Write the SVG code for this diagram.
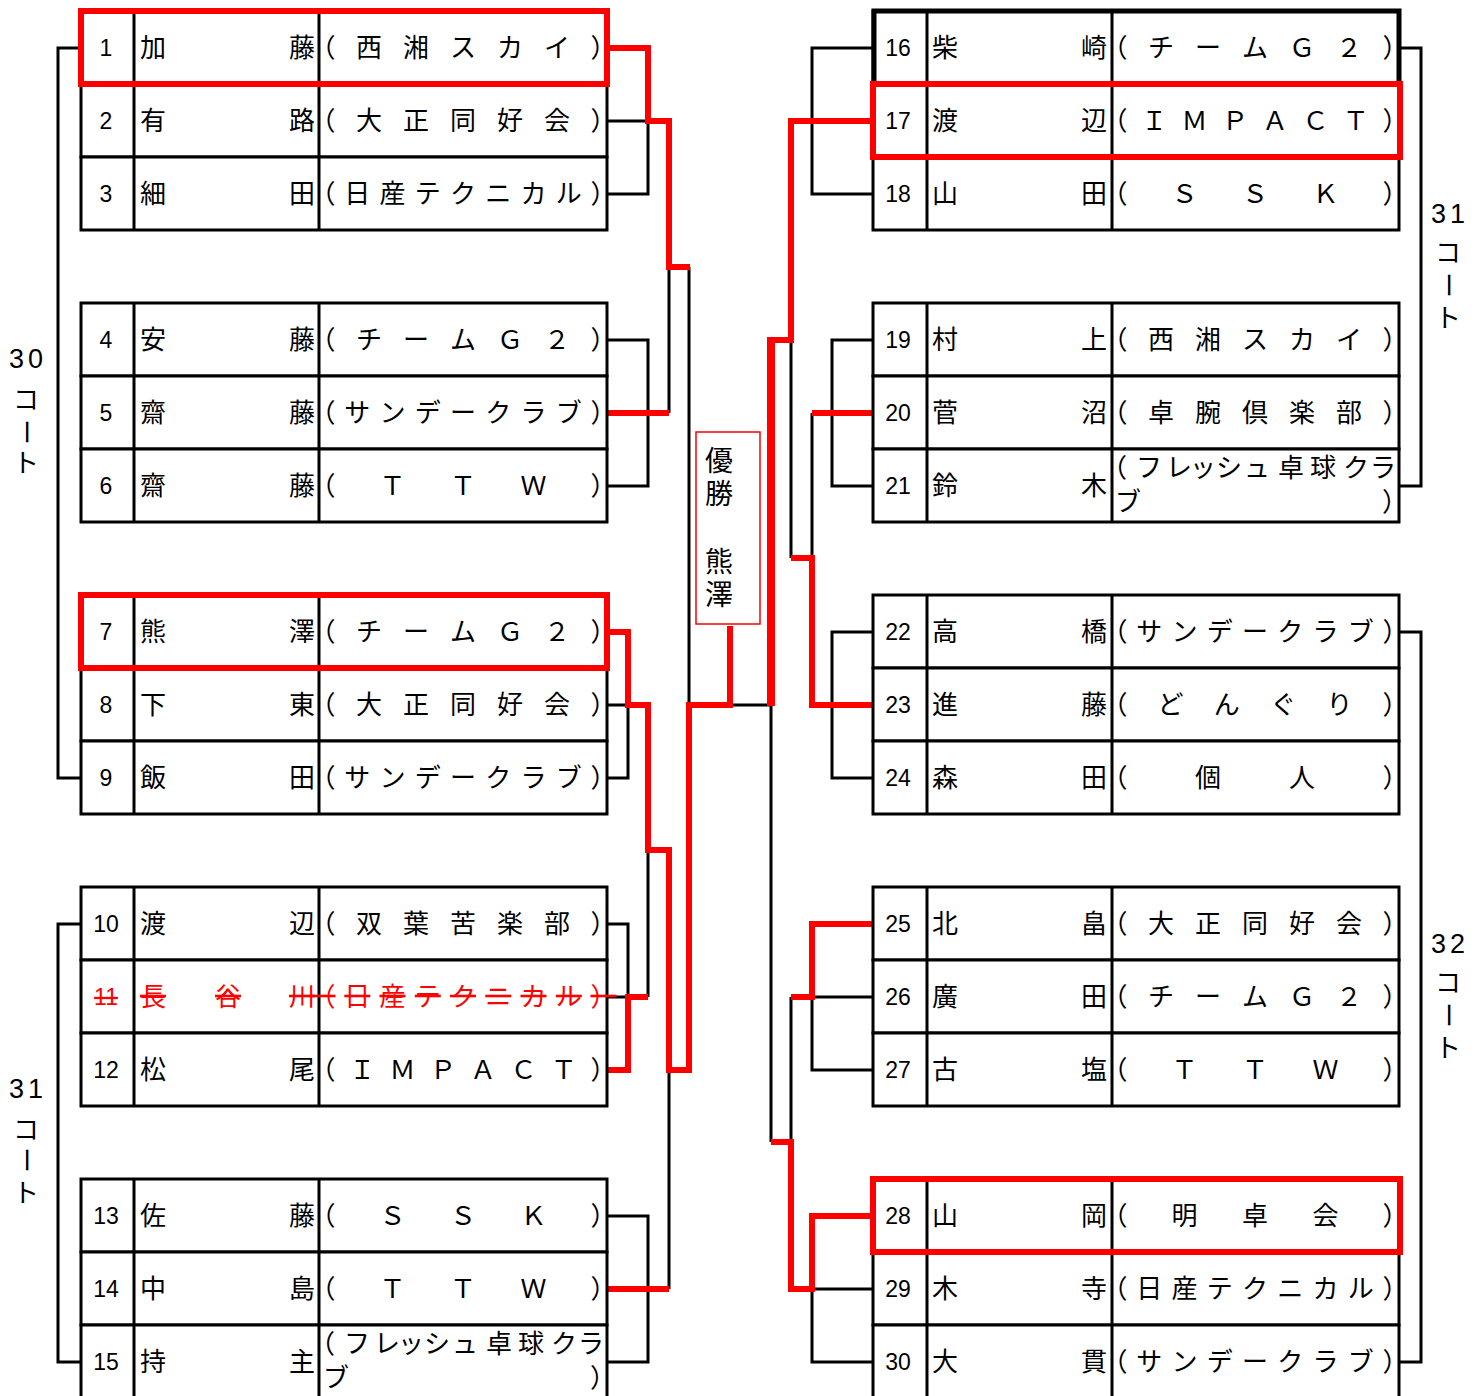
<svg xmlns="http://www.w3.org/2000/svg" width="1484" height="1396" viewBox="0 0 1484 1396">
<style>
.t{font-family:"Noto Sans CJK JP","Noto Sans CJK SC",sans-serif;font-size:26px;fill:#000;text-anchor:middle}
.n{font-family:"Liberation Sans",Arial,sans-serif;font-size:23px;fill:#000;text-anchor:middle}
.c{font-family:"Liberation Sans",Arial,sans-serif;font-size:27px;fill:#000;text-anchor:middle;letter-spacing:4px}
.v{font-family:"Noto Sans CJK JP","Noto Sans CJK SC",sans-serif;font-size:28px;fill:#000;writing-mode:vertical-rl;letter-spacing:5px}
.x{fill:#f00;text-decoration:line-through}
.cell{fill:#fff;stroke:#000;stroke-width:3}
.ln{stroke:#000;stroke-width:3;fill:none}
.bk{fill:none;stroke:#000;stroke-width:3}
.rd{fill:none;stroke:#f00;stroke-width:6}
.rbox{fill:none;stroke:#f00;stroke-width:6}
</style>
<rect width="1484" height="1396" fill="#fff"/>

<g id="connectors">
<path class="bk" d="M81 48H58V778H81M81 924H58V1362H81"/>
<path class="bk" d="M607 121H648M607 194H648V121M669 267V413M607 340H648V486H607M689 267V705M607 705H628M607 778H628V705M648 850V997M607 924H628V997M607 997H628M669 1070V1289M607 1216H648V1362H607M733 705H771"/>
<path class="bk" d="M1399 48H1421V486H1399M1399 632H1421V1362H1399"/>
<path class="bk" d="M873 48H812V194H873M791 340V558M873 340H832V486H873M812 413V558M873 632H832V778H873M771 705V1142M791 997V1142M873 997H812M873 1070H812V997M873 1289H812V1362H873"/>
<path class="rd" d="M609 48H648V121H669V267H690M607 413H669M609 632H628V705H648V850H669V1070H689V705H730V626M607 1070H628V997H648M607 1289H669"/>
<path class="rd" d="M873 121H791V340H771M873 413H812M791 558H812V705H873M873 924H812V997H791M771 1142H791V1289H812V1216H873"/>
<path class="rd" style="stroke-width:8" d="M771 337V706"/>
</g>

<g id="p1"><rect class="cell" x="81" y="11" width="526" height="73"/><path class="ln" d="M134 11v73M319 11v73"/><text class="n" x="106" y="56">1</text><text class="t" x="153 302" y="57">加藤</text><text class="t" x="322.5 369 416 463 510 557 603.5" y="57">（西湘スカイ）</text></g>
<g id="p2"><rect class="cell" x="81" y="84" width="526" height="73"/><path class="ln" d="M134 84v73M319 84v73"/><text class="n" x="106" y="129">2</text><text class="t" x="153 302" y="130">有路</text><text class="t" x="322.5 369 416 463 510 557 603.5" y="130">（大正同好会）</text></g>
<g id="p3"><rect class="cell" x="81" y="157" width="526" height="73"/><path class="ln" d="M134 157v73M319 157v73"/><text class="n" x="106" y="202">3</text><text class="t" x="153 302" y="203">細田</text><text class="t" x="322.5 357.3 392.5 427.8 463 498.3 533.5 568.8 603.5" y="203">（日産テクニカル）</text></g>
<g id="p4"><rect class="cell" x="81" y="303" width="526" height="73"/><path class="ln" d="M134 303v73M319 303v73"/><text class="n" x="106" y="348">4</text><text class="t" x="153 302" y="349">安藤</text><text class="t" x="322.5 369 416 463 510 557 603.5" y="349">（チームＧ２）</text></g>
<g id="p5"><rect class="cell" x="81" y="376" width="526" height="73"/><path class="ln" d="M134 376v73M319 376v73"/><text class="n" x="106" y="421">5</text><text class="t" x="153 302" y="422">齋藤</text><text class="t" x="322.5 357.3 392.5 427.8 463 498.3 533.5 568.8 603.5" y="422">（サンデークラブ）</text></g>
<g id="p6"><rect class="cell" x="81" y="449" width="526" height="73"/><path class="ln" d="M134 449v73M319 449v73"/><text class="n" x="106" y="494">6</text><text class="t" x="153 302" y="495">齋藤</text><text class="t" x="322.5 392.5 463 533.5 603.5" y="495">（ＴＴＷ）</text></g>
<g id="p7"><rect class="cell" x="81" y="595" width="526" height="73"/><path class="ln" d="M134 595v73M319 595v73"/><text class="n" x="106" y="640">7</text><text class="t" x="153 302" y="641">熊澤</text><text class="t" x="322.5 369 416 463 510 557 603.5" y="641">（チームＧ２）</text></g>
<g id="p8"><rect class="cell" x="81" y="668" width="526" height="73"/><path class="ln" d="M134 668v73M319 668v73"/><text class="n" x="106" y="713">8</text><text class="t" x="153 302" y="714">下東</text><text class="t" x="322.5 369 416 463 510 557 603.5" y="714">（大正同好会）</text></g>
<g id="p9"><rect class="cell" x="81" y="741" width="526" height="73"/><path class="ln" d="M134 741v73M319 741v73"/><text class="n" x="106" y="786">9</text><text class="t" x="153 302" y="787">飯田</text><text class="t" x="322.5 357.3 392.5 427.8 463 498.3 533.5 568.8 603.5" y="787">（サンデークラブ）</text></g>
<g id="p10"><rect class="cell" x="81" y="887" width="526" height="73"/><path class="ln" d="M134 887v73M319 887v73"/><text class="n" x="106" y="932">10</text><text class="t" x="153 302" y="933">渡辺</text><text class="t" x="322.5 369 416 463 510 557 603.5" y="933">（双葉苦楽部）</text></g>
<g id="p11"><rect class="cell" x="81" y="960" width="526" height="73"/><path class="ln" d="M134 960v73M319 960v73"/><text class="n x" x="106" y="1005">11</text><text class="t x" x="153 228 302" y="1006">長谷川</text><text class="t x" x="322.5 357.3 392.5 427.8 463 498.3 533.5 568.8 603.5" y="1006">（日産テクニカル）</text></g>
<g id="p12"><rect class="cell" x="81" y="1033" width="526" height="73"/><path class="ln" d="M134 1033v73M319 1033v73"/><text class="n" x="106" y="1078">12</text><text class="t" x="153 302" y="1079">松尾</text><text class="t" x="322.5 362.3 402.6 442.9 483.1 523.4 563.7 603.5" y="1079">（ＩＭＰＡＣＴ）</text></g>
<g id="p13"><rect class="cell" x="81" y="1179" width="526" height="73"/><path class="ln" d="M134 1179v73M319 1179v73"/><text class="n" x="106" y="1224">13</text><text class="t" x="153 302" y="1225">佐藤</text><text class="t" x="322.5 392.5 463 533.5 603.5" y="1225">（ＳＳＫ）</text></g>
<g id="p14"><rect class="cell" x="81" y="1252" width="526" height="73"/><path class="ln" d="M134 1252v73M319 1252v73"/><text class="n" x="106" y="1297">14</text><text class="t" x="153 302" y="1298">中島</text><text class="t" x="322.5 392.5 463 533.5 603.5" y="1298">（ＴＴＷ）</text></g>
<g id="p15"><rect class="cell" x="81" y="1325" width="526" height="73"/><path class="ln" d="M134 1325v73M319 1325v73"/><text class="n" x="106" y="1370">15</text><text class="t" x="153 302" y="1371">持主</text><text class="t"><tspan x="322 357 387 411 437 465 499 531 564 591" y="1353">（フレッシュ卓球クラ</tspan><tspan x="336 603" y="1387">ブ）</tspan></text></g>

<g id="p16"><rect class="cell" x="873" y="11" width="526" height="73"/><path class="ln" d="M927 11v73M1112 11v73"/><text class="n" x="898" y="56">16</text><text class="t" x="945 1094" y="57">柴崎</text><text class="t" x="1114.5 1161 1208 1255 1302 1349 1395.5" y="57">（チームＧ２）</text></g>
<g id="p17"><rect class="cell" x="873" y="84" width="526" height="73"/><path class="ln" d="M927 84v73M1112 84v73"/><text class="n" x="898" y="129">17</text><text class="t" x="945 1094" y="130">渡辺</text><text class="t" x="1114.5 1154.3 1194.6 1234.9 1275.1 1315.4 1355.7 1395.5" y="130">（ＩＭＰＡＣＴ）</text></g>
<g id="p18"><rect class="cell" x="873" y="157" width="526" height="73"/><path class="ln" d="M927 157v73M1112 157v73"/><text class="n" x="898" y="202">18</text><text class="t" x="945 1094" y="203">山田</text><text class="t" x="1114.5 1184.5 1255 1325.5 1395.5" y="203">（ＳＳＫ）</text></g>
<g id="p19"><rect class="cell" x="873" y="303" width="526" height="73"/><path class="ln" d="M927 303v73M1112 303v73"/><text class="n" x="898" y="348">19</text><text class="t" x="945 1094" y="349">村上</text><text class="t" x="1114.5 1161 1208 1255 1302 1349 1395.5" y="349">（西湘スカイ）</text></g>
<g id="p20"><rect class="cell" x="873" y="376" width="526" height="73"/><path class="ln" d="M927 376v73M1112 376v73"/><text class="n" x="898" y="421">20</text><text class="t" x="945 1094" y="422">菅沼</text><text class="t" x="1114.5 1161 1208 1255 1302 1349 1395.5" y="422">（卓腕倶楽部）</text></g>
<g id="p21"><rect class="cell" x="873" y="449" width="526" height="73"/><path class="ln" d="M927 449v73M1112 449v73"/><text class="n" x="898" y="494">21</text><text class="t" x="945 1094" y="495">鈴木</text><text class="t"><tspan x="1114 1149 1179 1203 1229 1257 1291 1323 1356 1383" y="477">（フレッシュ卓球クラ</tspan><tspan x="1128 1395" y="511">ブ）</tspan></text></g>
<g id="p22"><rect class="cell" x="873" y="595" width="526" height="73"/><path class="ln" d="M927 595v73M1112 595v73"/><text class="n" x="898" y="640">22</text><text class="t" x="945 1094" y="641">高橋</text><text class="t" x="1114.5 1149.3 1184.5 1219.8 1255 1290.3 1325.5 1360.8 1395.5" y="641">（サンデークラブ）</text></g>
<g id="p23"><rect class="cell" x="873" y="668" width="526" height="73"/><path class="ln" d="M927 668v73M1112 668v73"/><text class="n" x="898" y="713">23</text><text class="t" x="945 1094" y="714">進藤</text><text class="t" x="1114.5 1170.4 1226.8 1283.2 1339.6 1395.5" y="714">（どんぐり）</text></g>
<g id="p24"><rect class="cell" x="873" y="741" width="526" height="73"/><path class="ln" d="M927 741v73M1112 741v73"/><text class="n" x="898" y="786">24</text><text class="t" x="945 1094" y="787">森田</text><text class="t" x="1114.5 1208 1302 1395.5" y="787">（個人）</text></g>
<g id="p25"><rect class="cell" x="873" y="887" width="526" height="73"/><path class="ln" d="M927 887v73M1112 887v73"/><text class="n" x="898" y="932">25</text><text class="t" x="945 1094" y="933">北畠</text><text class="t" x="1114.5 1161 1208 1255 1302 1349 1395.5" y="933">（大正同好会）</text></g>
<g id="p26"><rect class="cell" x="873" y="960" width="526" height="73"/><path class="ln" d="M927 960v73M1112 960v73"/><text class="n" x="898" y="1005">26</text><text class="t" x="945 1094" y="1006">廣田</text><text class="t" x="1114.5 1161 1208 1255 1302 1349 1395.5" y="1006">（チームＧ２）</text></g>
<g id="p27"><rect class="cell" x="873" y="1033" width="526" height="73"/><path class="ln" d="M927 1033v73M1112 1033v73"/><text class="n" x="898" y="1078">27</text><text class="t" x="945 1094" y="1079">古塩</text><text class="t" x="1114.5 1184.5 1255 1325.5 1395.5" y="1079">（ＴＴＷ）</text></g>
<g id="p28"><rect class="cell" x="873" y="1179" width="526" height="73"/><path class="ln" d="M927 1179v73M1112 1179v73"/><text class="n" x="898" y="1224">28</text><text class="t" x="945 1094" y="1225">山岡</text><text class="t" x="1114.5 1184.5 1255 1325.5 1395.5" y="1225">（明卓会）</text></g>
<g id="p29"><rect class="cell" x="873" y="1252" width="526" height="73"/><path class="ln" d="M927 1252v73M1112 1252v73"/><text class="n" x="898" y="1297">29</text><text class="t" x="945 1094" y="1298">木寺</text><text class="t" x="1114.5 1149.3 1184.5 1219.8 1255 1290.3 1325.5 1360.8 1395.5" y="1298">（日産テクニカル）</text></g>
<g id="p30"><rect class="cell" x="873" y="1325" width="526" height="73"/><path class="ln" d="M927 1325v73M1112 1325v73"/><text class="n" x="898" y="1370">30</text><text class="t" x="945 1094" y="1371">大貫</text><text class="t" x="1114.5 1149.3 1184.5 1219.8 1255 1290.3 1325.5 1360.8 1395.5" y="1371">（サンデークラブ）</text></g>

<g id="highlights">
<rect x="874" y="11" width="525" height="73" fill="none" stroke="#000" stroke-width="5"/>
<rect class="rbox" x="81" y="11" width="526" height="73"/>
<rect class="rbox" x="81" y="595" width="526" height="73"/>
<rect class="rbox" x="873" y="84" width="527" height="73"/>
<rect class="rbox" x="873" y="1179" width="527" height="73"/>
</g>

<g id="champion">
<rect x="696" y="432" width="64" height="192" fill="#fff" stroke="#f00" stroke-width="1.5"/>
<text class="v" x="719" y="446">優勝</text>
<text class="v" x="719" y="547">熊澤</text>
</g>

<g id="court30">
<text class="c" x="28" y="368">30</text>
<text class="t" x="26" y="409">コ</text>
<text class="t" x="26" y="441" transform="rotate(90 26 432)">ー</text>
<text class="t" x="26" y="472">ト</text>
</g>
<g id="court31L">
<text class="c" x="28" y="1098">31</text>
<text class="t" x="26" y="1139">コ</text>
<text class="t" x="26" y="1169" transform="rotate(90 26 1160)">ー</text>
<text class="t" x="26" y="1202">ト</text>
</g>
<g id="court31R">
<text class="c" x="1450" y="223">31</text>
<text class="t" x="1448" y="262">コ</text>
<text class="t" x="1448" y="294" transform="rotate(90 1448 285)">ー</text>
<text class="t" x="1448" y="327">ト</text>
</g>
<g id="court32">
<text class="c" x="1450" y="953">32</text>
<text class="t" x="1448" y="992">コ</text>
<text class="t" x="1448" y="1024" transform="rotate(90 1448 1015)">ー</text>
<text class="t" x="1448" y="1057">ト</text>
</g>
</svg>
